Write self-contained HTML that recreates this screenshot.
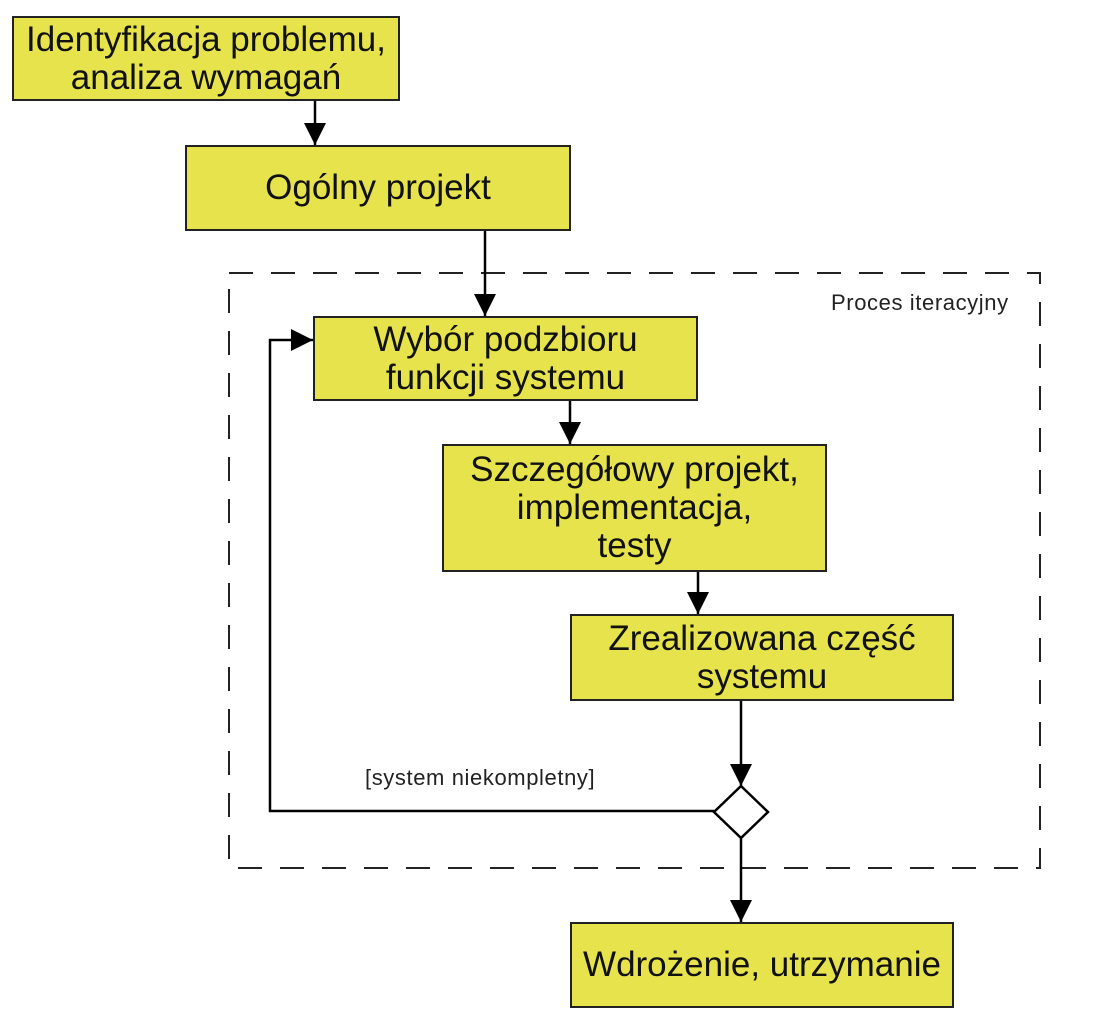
<!DOCTYPE html>
<html><head><meta charset="utf-8"><style>
body{margin:0;width:1113px;height:1026px;background:#fff;position:relative;overflow:hidden;font-family:"Liberation Sans",sans-serif}
.b{position:absolute;background:#e6e34d;border:2px solid #222;box-sizing:border-box;display:flex;align-items:center;justify-content:center;text-align:center;font-size:35px;line-height:38px;color:#111;white-space:nowrap}
.t{position:absolute;font-size:22px;color:#222;letter-spacing:0.6px;white-space:nowrap}
</style></head><body>
<svg width="1113" height="1026" style="position:absolute;left:0;top:0">
<defs>
<marker id="m" viewBox="0 0 10 10" markerWidth="22" markerHeight="22" refX="10" refY="5" orient="auto" markerUnits="userSpaceOnUse"><path d="M0,0 L10,5 L0,10 z" fill="#000"/></marker></defs>
<rect x="229" y="273" width="811" height="595" fill="none" stroke="#222" stroke-width="2" stroke-dasharray="24,18"/>
<g stroke="#000" stroke-width="2.5" fill="none">
<line x1="315" y1="100" x2="315" y2="145" marker-end="url(#m)"/>
<line x1="485" y1="230" x2="485" y2="316" marker-end="url(#m)"/>
<line x1="570" y1="400" x2="570" y2="444" marker-end="url(#m)"/>
<line x1="698" y1="571" x2="698" y2="614" marker-end="url(#m)"/>
<line x1="741" y1="700" x2="741" y2="786" marker-end="url(#m)"/>
<line x1="741" y1="838" x2="741" y2="922" marker-end="url(#m)"/>
<polyline points="714,811 270,811 270,340 313,340" marker-end="url(#m)"/>
</g>
<polygon points="741,786 768,812 741,838 714,812" fill="#fff" stroke="#000" stroke-width="2.5"/>
</svg>
<div class="b" style="left:12px;top:16px;width:388px;height:85px">Identyfikacja problemu,<br>analiza wymagań</div>
<div class="b" style="left:185px;top:145px;width:386px;height:86px">Ogólny projekt</div>
<div class="b" style="left:313px;top:316px;width:385px;height:85px">Wybór podzbioru<br>funkcji systemu</div>
<div class="b" style="left:442px;top:444px;width:385px;height:128px">Szczegółowy projekt,<br>implementacja,<br>testy</div>
<div class="b" style="left:570px;top:614px;width:384px;height:87px">Zrealizowana część<br>systemu</div>
<div class="b" style="left:570px;top:922px;width:384px;height:86px">Wdrożenie, utrzymanie</div>
<div class="t" style="left:831px;top:290px">Proces iteracyjny</div>
<div class="t" style="left:365px;top:765px">[system niekompletny]</div>
</body></html>
